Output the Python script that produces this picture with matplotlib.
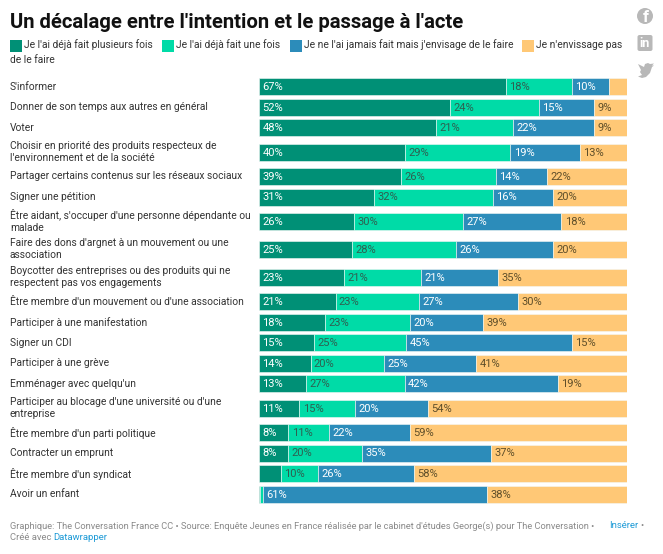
import matplotlib.pyplot as plt
from matplotlib.patches import Rectangle, Circle, FancyBboxPatch, Polygon
from matplotlib.transforms import blended_transform_factory

plt.rcParams['font.family'] = ['Roboto', 'DejaVu Sans']

categories = [
    "S'informer",
    "Donner de son temps aux autres en général",
    "Voter",
    "Choisir en priorité des produits respecteux de\nl'environnement et de la société",
    "Partager certains contenus sur les réseaux sociaux",
    "Signer une pétition",
    "Être aidant, s'occuper d'une personne dépendante ou\nmalade",
    "Faire des dons d'argnet à un mouvement ou une\nassociation",
    "Boycotter des entreprises ou des produits qui ne\nrespectent pas vos engagements",
    "Être membre d'un mouvement ou d'une association",
    "Participer à une manifestation",
    "Signer un CDI",
    "Participer à une grève",
    "Emménager avec quelqu'un",
    "Participer au blocage d'une université ou d'une\nentreprise",
    "Être membre d'un parti politique",
    "Contracter un emprunt",
    "Être membre d'un syndicat",
    "Avoir un enfant",
]
plusieurs = [67, 52, 48, 40, 39, 31, 26, 25, 23, 21, 18, 15, 14, 13, 11, 8, 8, 6, 0.4]
une_fois = [18, 24, 21, 29, 26, 32, 30, 28, 21, 23, 23, 25, 20, 27, 15, 11, 20, 10, 0.6]
envisage = [10, 15, 22, 19, 14, 16, 27, 26, 21, 27, 20, 45, 25, 42, 20, 22, 35, 26, 61]
jamais = [5, 9, 9, 13, 22, 20, 18, 20, 35, 30, 39, 15, 41, 19, 54, 59, 37, 58, 38]

series = [plusieurs, une_fois, envisage, jamais]
legend_labels = ["Je l'ai déjà fait plusieurs fois", "Je l'ai déjà fait une fois",
                 "Je ne l'ai jamais fait mais j'envisage de le faire", "Je n'envissage pas"]
colors = ['#009076', '#00DBA7', '#2C8CBA', '#FFC876']
text_colors = ['white', '#2f5f50', 'white', '#5f4f2a']

W, H = 663, 554
fig = plt.figure(figsize=(W / 100, H / 100), dpi=100)

# zone des barres, en pixels
top, bottom, left, right = 76.5, 504.5, 259, 627
ax = fig.add_axes([left / W, 1 - bottom / H, (right - left) / W, (bottom - top) / H])

# hauteur de ligne : les libellés sur deux lignes prennent plus de place
heights = [28 if '\n' in c else 20.55 for c in categories]
centers = []
pos = 0
for h in heights:
    centers.append(pos + h / 2)
    pos += h

ax.set_xlim(0, 100)
ax.set_ylim(pos, 0)
ax.axis('off')

trans = blended_transform_factory(fig.transFigure, ax.transData)
for i, cat in enumerate(categories):
    total = sum(s[i] for s in series)
    start = 0
    for s, col, tcol in zip(series, colors, text_colors):
        w = s[i] / total * 100
        ax.barh(centers[i], w, left=start, height=17, color=col, edgecolor='#f4f8f6', linewidth=0.4)
        if s[i] >= 7:
            ax.text(start + 0.9, centers[i] + 0.3, f'{s[i]}%', va='center', ha='left',
                    color=tcol, fontsize=8)
        start += w
    ax.text(10 / W, centers[i], cat, transform=trans, va='center', ha='left',
            fontsize=7.35, color='#333333', linespacing=1.25)


def fig_text(x, y, s, **kw):
    return fig.text(x / W, 1 - y / H, s, va='center', ha='left', **kw)


def fig_patch(p):
    p.set_transform(None)
    fig.add_artist(p)


def px(x, y):
    return x, H - y


# titre
fig_text(10, 22, "Un décalage entre l'intention et le passage à l'acte",
         fontsize=14.6, fontweight='bold', color='#111111')

# légende
legend_x = [10, 162, 290, 522]
text_x = [24.5, 176.5, 304, 536]
for lx, tx, lab, col in zip(legend_x, text_x, legend_labels, colors):
    fig_patch(Rectangle(px(lx, 52), 12, 12, facecolor=col, edgecolor='none'))
    fig_text(tx, 45, lab, fontsize=7.35, color='#333333')
fig_text(10, 60, "de le faire", fontsize=7.35, color='#333333')

# pied de page
foot = '#8a8a8a'
link = '#1d9ad6'
fig_text(10, 526, "Graphique: The Conversation France CC • Source: Enquête Jeunes en France réalisée "
         "par le cabinet d'études George(s) pour The Conversation •", fontsize=6.7, color=foot)
fig_text(609, 526, "Insérer", fontsize=6.8, color=link)
fig_text(640, 526, "•", fontsize=6.8, color=foot)
fig_text(10, 538, "Créé avec ", fontsize=6.8, color=foot)
fig_text(53.5, 538, "Datawrapper", fontsize=6.8, color=link)

# icônes de partage
icon = '#b8b8b8'
fig_patch(Circle(px(645, 16), 8, facecolor=icon, edgecolor='none'))
fig.text(646 / W, 1 - 17 / H, 'f', color='white', fontsize=12, fontweight='bold', ha='center', va='center')
fig_patch(FancyBboxPatch(px(637.5, 51), 15, 16, boxstyle='round,pad=0,rounding_size=2',
                         facecolor=icon, edgecolor='none'))
fig.text(645 / W, 1 - 43.5 / H, 'in', color='white', fontsize=9, fontweight='bold', ha='center', va='center')
bird = [(638, 64), (642, 66), (644, 67), (645, 64), (648, 63), (650, 64), (654, 63.5), (652, 65.5), (654, 65.5),
        (652, 67), (650, 73), (646, 77), (642, 78), (638, 76.5), (642, 75), (640, 72), (641, 70)]
fig_patch(Polygon([px(x, y) for x, y in bird], closed=True, facecolor=icon, edgecolor='none'))

fig.savefig('out.png', dpi=100)
